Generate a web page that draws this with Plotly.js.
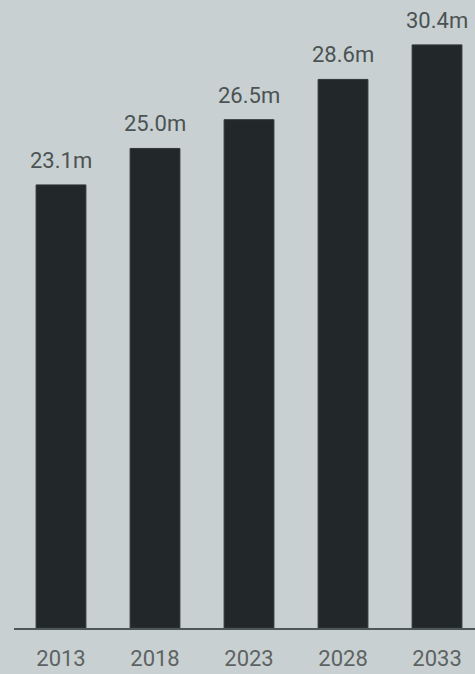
<!DOCTYPE html>
<html>
<head>
<meta charset="utf-8">
<script src="https://cdn.plot.ly/plotly-3.0.1.min.js"></script>
<style>
html,body{margin:0;padding:0;background:#c9d0d1;}
#chart{width:475px;height:674px;}
</style>
</head>
<body>
<div id="chart"></div>
<script>
const years = ["2013", "2018", "2023", "2028", "2033"];
const values = [23.1, 25.0, 26.5, 28.6, 30.4];
const labels = ["23.1m", "25.0m", "26.5m", "28.6m", "30.4m"];

const trace = {
  type: "bar",
  x: years,
  y: values,
  marker: {color: "#222829", line: {color: "#2f3737", width: 1}},
  width: 0.53,
  hoverinfo: "none"
};

const annotations = years.map((yr, i) => ({
  x: i, y: values[i], xref: "x", yref: "y",
  text: labels[i], showarrow: false,
  xanchor: "center", yanchor: "bottom", yshift: 10,
  font: {family: "Roboto, sans-serif", size: 22, color: "#4b5354"}
}));

const layout = {
  width: 475, height: 674,
  margin: {l: 14, r: 0, t: 0, b: 46},
  paper_bgcolor: "#c9d0d1",
  plot_bgcolor: "#c9d0d1",
  showlegend: false,
  xaxis: {
    type: "category",
    range: [-0.5, 4.404],
    showgrid: false, zeroline: false,
    showline: true, linecolor: "#4d5757", linewidth: 2,
    ticks: "", ticklabelstandoff: 10,
    tickfont: {family: "Roboto, sans-serif", size: 22, color: "#5d6363"},
    fixedrange: true
  },
  yaxis: {
    range: [0, 32.74],
    visible: false, showgrid: false, zeroline: false,
    fixedrange: true
  },
  annotations: annotations
};

Plotly.newPlot("chart", [trace], layout, {displayModeBar: false});
</script>
</body>
</html>
